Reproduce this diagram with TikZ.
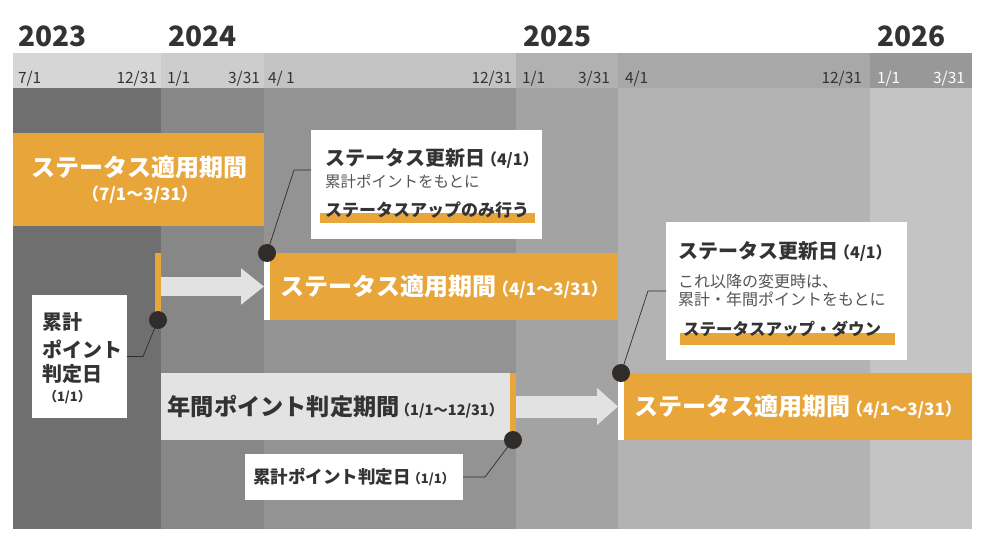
\documentclass[tikz,border=0pt]{standalone}
\usepackage{fontspec}
\setmainfont{Noto Sans CJK JP}
\usetikzlibrary{arrows.meta}
\definecolor{orng}{HTML}{E8A53A}
\definecolor{ink}{HTML}{333333}
\definecolor{inkl}{HTML}{555555}
\definecolor{dotk}{HTML}{2F2C2A}
\definecolor{arw}{HTML}{E2E2E2}
\definecolor{gbx}{HTML}{E3E3E3}
\definecolor{ca}{HTML}{6F6F6F}
\definecolor{cb}{HTML}{878787}
\definecolor{cc}{HTML}{939393}
\definecolor{cd}{HTML}{A3A3A3}
\definecolor{ce}{HTML}{B3B3B3}
\definecolor{cf}{HTML}{C4C4C4}
\definecolor{ha}{HTML}{D6D6D6}
\definecolor{hb}{HTML}{CDCDCD}
\definecolor{hc}{HTML}{C3C3C3}
\definecolor{hd}{HTML}{B1B1B1}
\definecolor{he}{HTML}{A8A8A8}
\definecolor{hf}{HTML}{989898}
\newcommand\FsBig{\fontsize{24}{28}\selectfont\bfseries}
\newcommand\FsBigG{\fontsize{23.2}{28}\selectfont\bfseries}
\newcommand\FsPar{\fontsize{17}{20}\selectfont\bfseries}
\newcommand\FsParS{\fontsize{14.5}{18}\selectfont\bfseries}
\newcommand\PK{\hspace{-4pt}}
\begin{document}
\begin{tikzpicture}[x=1pt,y=-1pt,
  every node/.style={inner sep=0pt, outer sep=0pt},
  year/.style={anchor=base west, font=\fontsize{28}{30}\selectfont\bfseries, text=ink},
  dl/.style={anchor=base west, font=\fontsize{15.5}{18}\selectfont, text=ink},
  dr/.style={anchor=base east, font=\fontsize{15.5}{18}\selectfont, text=ink},
  obox/.style={fill=orng, anchor=north west, text=white},
  wbox/.style={fill=white, anchor=north west},
  gbox/.style={fill=gbx, anchor=north west, text=ink},
  obar/.style={fill=orng, anchor=north west, minimum width=6pt, minimum height=67pt},
  wbar/.style={fill=white, anchor=north west, minimum width=6pt, minimum height=67pt},
  dotn/.style={circle, fill=dotk, minimum size=18pt},
  lead/.style={draw=dotk, line width=0.7pt},
  blockA/.style={draw=arw, line width=19pt, -{Triangle[length=23pt, width=35pt]}},
  blockB/.style={draw=arw, line width=22pt, -{Triangle[length=21pt, width=36pt]}},
  ttl/.style={anchor=west, font=\fontsize{20}{24}\selectfont\bfseries, text=ink},
  reg/.style={anchor=west, font=\fontsize{15.5}{19}\selectfont, text=inkl},
  hl/.style={anchor=west, font=\fontsize{17}{20}\selectfont\bfseries, text=ink},
  kpt/.style={anchor=west, font=\fontsize{20}{24}\selectfont\bfseries, text=ink}
]
\useasboundingbox (0,0) rectangle (990,551);
\fill[white] (0,0) rectangle (990,551);
% header band
\fill[ha] (13,53) rectangle (161,88);
\fill[hb] (161,53) rectangle (264,88);
\fill[hc] (264,53) rectangle (516,88);
\fill[hd] (516,53) rectangle (618,88);
\fill[he] (618,53) rectangle (870,88);
\fill[hf] (870,53) rectangle (972,88);
% body columns
\fill[ca] (13,88) rectangle (161,529);
\fill[cb] (161,88) rectangle (264,529);
\fill[cc] (264,88) rectangle (516,529);
\fill[cd] (516,88) rectangle (618,529);
\fill[ce] (618,88) rectangle (870,529);
\fill[cf] (870,88) rectangle (972,529);
% years
\node[year] (y23) at (18,47) {2023};
\node[year] (y24) at (168,47) {2024};
\node[year] (y25) at (523,47) {2025};
\node[year] (y26) at (877,47) {2026};
% dates
\node[dl] (da1) at (18,83) {7/1};
\node[dr] (da2) at (157,83) {12/31};
\node[dl] (db1) at (167,83) {1/1};
\node[dr] (db2) at (260,83) {3/31};
\node[dl] (dc1) at (268,83) {4/ 1};
\node[dr] (dc2) at (512,83) {12/31};
\node[dl] (dd1) at (522,83) {1/1};
\node[dr] (dd2) at (610,83) {3/31};
\node[dl] (de1) at (625,83) {4/1};
\node[dr] (de2) at (862,83) {12/31};
\node[dl, text=white] (df1) at (877,83) {1/1};
\node[dr, text=white] (df2) at (965,83) {3/31};
% status period 1
\node[obox, minimum width=251pt, minimum height=93pt] (box1) at (13,133) {};
\node[text=white, font=\FsBig] (b1t) at (139,167) {ステータス適用期間};
\node[text=white, font=\FsPar] (b1d) at (140,195) {（7/1〜3/31）};
% bars
\node[obar] (bar1) at (155,253) {};
\node[wbar] (wb1) at (264,253) {};
\node[obox, minimum width=348pt, minimum height=67pt] (box2) at (270,253) {{\FsBig ステータス適用期間}\PK{\FsPar （4/1〜3/31）}};
\node[gbox, minimum width=349pt, minimum height=67pt] (gbx) at (161,373) {{\FsBigG 年間ポイント判定期間}\PK{\FsParS （1/1〜12/31）}};
\node[obar] (bar2) at (510,373) {};
\node[wbar] (wb2) at (618,373) {};
\node[obox, minimum width=348pt, minimum height=67pt] (box3) at (624,373) {{\FsBig ステータス適用期間}\PK{\FsPar （4/1〜3/31）}};
% block arrows
\draw[blockA] (bar1.east) -- (wb1.west);
\draw[blockB] (bar2.east) -- (wb2.west);
% callout 1
\node[wbox, minimum width=231pt, minimum height=109pt] (co1) at (311,130) {};
\fill[orng] (320,213) rectangle (535,223);
\node[ttl] (co1a) at (325,158) {ステータス更新日\PK{\fontsize{16}{19}\selectfont\bfseries （4/1）}};
\node[reg] (co1b) at (325,181.5) {累計ポイントをもとに};
\node[hl] (co1c) at (325,210.5) {ステータスアップのみ行う};
% callout 2
\node[wbox, minimum width=241pt, minimum height=138pt] (co2) at (666,222) {};
\fill[orng] (680,333) rectangle (895,345);
\node[ttl] (co2a) at (678,251.5) {ステータス更新日\PK{\fontsize{16}{19}\selectfont\bfseries （4/1）}};
\node[reg, font=\fontsize{16}{19}\selectfont] (co2b) at (678,281) {これ以降の変更時は、};
\node[reg, font=\fontsize{16}{19}\selectfont] (co2c) at (678,299.5) {累計・年間ポイントをもとに};
\node[hl, font=\fontsize{16.5}{20}\selectfont\bfseries] (co2d) at (683,329.5) {ステータスアップ・ダウン};
% judgement day boxes
\node[wbox, minimum width=95pt, minimum height=123pt] (kp1) at (32,295) {};
\node[kpt] (kp1a) at (42,322) {累計};
\node[kpt] (kp1b) at (42,349.5) {ポイント};
\node[kpt] (kp1c) at (42,373.5) {判定日};
\node[kpt, font=\fontsize{13}{16}\selectfont\bfseries] (kp1d) at (44,397.5) {（1/1）};
\node[wbox, minimum width=218pt, minimum height=46pt, text=ink] (kp2) at (245,454) {{\fontsize{17.5}{20}\selectfont\bfseries 累計ポイント判定日}\hspace{-3pt}{\fontsize{13}{16}\selectfont\bfseries （1/1）}};
% leaders
\draw[lead] (bar1.south) -- (143,356.5) -- (kp1.east);
\draw[lead] (wb1.north) -- (294,170) -- ([yshift=-40pt]co1.north west);
\draw[lead] (bar2.south) -- (485,477) -- (kp2.east);
\draw[lead] (wb2.north) -- (648,291) -- (co2.west);
% dots
\node[dotn] (dt1) at (bar1.south) {};
\node[dotn] (dt2) at (wb1.north) {};
\node[dotn] (dt3) at (bar2.south) {};
\node[dotn] (dt4) at (wb2.north) {};
\end{tikzpicture}
\end{document}
